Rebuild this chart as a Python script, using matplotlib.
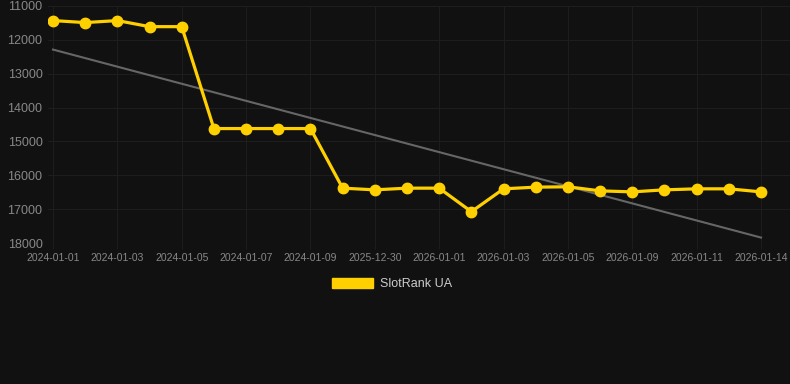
import numpy as np
import matplotlib
matplotlib.use("Agg")
import matplotlib.pyplot as plt
from matplotlib.patches import Patch

plt.rcParams['font.family'] = ['Liberation Sans', 'DejaVu Sans']

dates = ["2024-01-01", "2024-01-02", "2024-01-03", "2024-01-04", "2024-01-05",
         "2024-01-06", "2024-01-07", "2024-01-08", "2024-01-09", "2024-01-10",
         "2025-12-30", "2025-12-31", "2026-01-01", "2026-01-02", "2026-01-03",
         "2026-01-04", "2026-01-05", "2026-01-06", "2026-01-09", "2026-01-10",
         "2026-01-11", "2026-01-12", "2026-01-14"]
rank = [11430, 11490, 11430, 11610, 11610,
        14620, 14620, 14620, 14620, 16380,
        16430, 16380, 16380, 17075, 16400,
        16350, 16340, 16460, 16490, 16430,
        16400, 16400, 16490]
yticks = [11000, 12000, 13000, 14000, 15000, 16000, 17000, 18000]

bg = "#111111"
yellow = "#FFD000"

fig = plt.figure(figsize=(7.9, 3.84), dpi=100, facecolor=bg)
ax = fig.add_axes([48 / 790, 1 - 243 / 384, 742 / 790, 237 / 384])
ax.set_facecolor(bg)

x = np.arange(len(dates))

# trend line (least squares)
k, b = np.polyfit(x, rank, 1)
ax.plot(x, k * x + b, color="#666666", lw=1.5, zorder=2)

ax.plot(x, rank, color=yellow, lw=2.3, marker="o", markersize=7.5, zorder=3)

ax.set_ylim(18000, 11000)
ax.set_xlim(-0.155, 22.9)
ax.set_yticks(yticks)
ax.set_xticks(x[::2])
ax.set_xticklabels(dates[::2])

ax.grid(True, color="#1d1d1d", lw=0.8)
for s in ax.spines.values():
    s.set_visible(False)
ax.tick_params(axis="x", colors="#1d1d1d", labelsize=7.5, length=4, pad=3)
ax.tick_params(axis="y", labelsize=9, length=0, pad=4)
for lab in ax.get_yticklabels():
    lab.set_color("#888888")
for lab in ax.get_xticklabels():
    lab.set_color("#888888")

handle = Patch(facecolor=yellow, edgecolor=yellow)
fig.legend([handle], ["SlotRank UA"], loc="center", bbox_to_anchor=(392 / 790, 1 - 284 / 384),
           frameon=False, handlelength=3.3, handleheight=0.9, fontsize=9, labelcolor="#cccccc",
           handletextpad=0.5)

fig.savefig("out.png", dpi=100, facecolor=bg)
